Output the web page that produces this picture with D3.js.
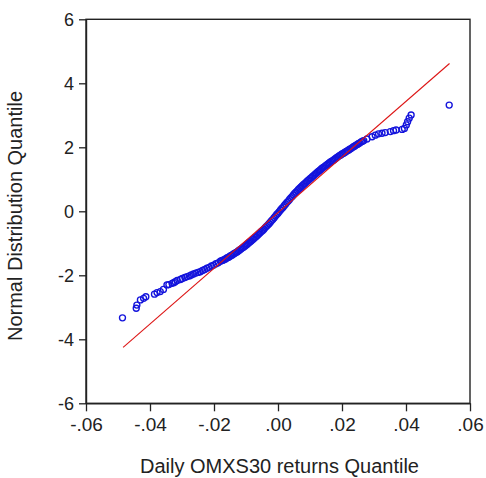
<!DOCTYPE html>
<html>
<head>
<meta charset="utf-8">
<script src="https://cdn.jsdelivr.net/npm/d3@7"></script>
<style>
  html, body { margin: 0; padding: 0; background: #fff; }
  svg { display: block; }
  text { font-family: "Liberation Sans", Arial, sans-serif; fill: #222; }
</style>
</head>
<body>
<svg id="chart" width="486" height="478"></svg>
<script>
// Empirical quantiles of daily OMXS30 returns (x) against normal quantiles (y)
const returnQ = [
  -0.0486,-0.0443,-0.0441,-0.0430,-0.0420,-0.0413,-0.0386,-0.0378,-0.0368,-0.0358,
  -0.0347,-0.0341,-0.0331,-0.0326,-0.0321,-0.0315,-0.0305,-0.0299,-0.0291,-0.0284,
  -0.0277,-0.0271,-0.0264,-0.0257,-0.0250,-0.0243,-0.0236,-0.0229,-0.0222,-0.0215,
  -0.0208,-0.0201,-0.0194,-0.0187,-0.0180,
  -0.0176,-0.0172,-0.0168,-0.0164,-0.0160,-0.0156,-0.0152,-0.0148,-0.0144,-0.0140,
  -0.0136,-0.0132,-0.0128,-0.0124,-0.0120,-0.0116,-0.0112,-0.0108,-0.0104,-0.0100,
  -0.0096,-0.0092,-0.0088,-0.0084,-0.0080,-0.0076,-0.0072,-0.0068,-0.0064,-0.0060,
  -0.0056,-0.0052,-0.0048,-0.0044,-0.0040,-0.0036,-0.0032,-0.0028,-0.0024,-0.0020,
  -0.0016,-0.0012,-0.0008,-0.0004,0.0000,0.0004,0.0008,0.0012,0.0016,0.0020,
  0.0024,0.0028,0.0032,0.0036,0.0040,0.0044,0.0048,0.0052,0.0056,0.0060,
  0.0064,0.0068,0.0072,0.0076,0.0080,0.0084,0.0088,0.0092,0.0096,0.0100,
  0.0104,0.0108,0.0112,0.0116,0.0120,0.0124,0.0128,0.0132,0.0136,0.0140,
  0.0144,0.0148,0.0152,0.0156,0.0160,0.0164,0.0168,0.0172,0.0176,0.0180,
  0.0184,0.0188,0.0192,0.0196,0.0200,0.0204,0.0208,0.0212,0.0216,0.0220,
  0.0224,0.0228,0.0232,0.0236,0.0240,0.0244,0.0248,0.0252,0.0256,0.0260,
  0.0264,0.0268,
  0.0278,0.0294,0.0304,0.0314,0.0325,0.0335,0.0351,0.0361,0.0369,0.0388,
  0.0395,0.0401,0.0405,0.0410,0.0416,0.0535
];
const normalQ = [
  -3.33,-3.03,-2.93,-2.77,-2.72,-2.67,-2.59,-2.54,-2.51,-2.44,
  -2.30,-2.29,-2.25,-2.23,-2.20,-2.16,-2.13,-2.10,-2.07,-2.04,
  -2.02,-1.99,-1.96,-1.93,-1.91,-1.89,-1.85,-1.82,-1.78,-1.75,
  -1.71,-1.68,-1.64,-1.61,-1.56,
  -1.54,-1.53,-1.51,-1.49,-1.46,-1.44,-1.42,-1.39,-1.37,-1.34,
  -1.32,-1.29,-1.27,-1.24,-1.21,-1.18,-1.15,-1.12,-1.09,-1.06,
  -1.03,-0.99,-0.96,-0.93,-0.89,-0.86,-0.82,-0.79,-0.75,-0.71,
  -0.67,-0.63,-0.60,-0.56,-0.51,-0.47,-0.43,-0.39,-0.34,-0.29,
  -0.25,-0.20,-0.15,-0.10,-0.06,-0.01,0.04,0.09,0.13,0.18,
  0.23,0.28,0.32,0.37,0.42,0.46,0.51,0.56,0.60,0.64,
  0.68,0.72,0.76,0.80,0.84,0.87,0.91,0.95,0.98,1.02,
  1.05,1.09,1.12,1.16,1.19,1.23,1.26,1.29,1.33,1.36,
  1.39,1.42,1.45,1.48,1.51,1.54,1.57,1.59,1.62,1.65,
  1.68,1.71,1.74,1.76,1.79,1.81,1.84,1.86,1.89,1.91,
  1.94,1.96,1.99,2.02,2.04,2.07,2.09,2.12,2.14,2.17,
  2.19,2.21,
  2.26,2.33,2.38,2.42,2.44,2.46,2.49,2.52,2.54,2.56,
  2.59,2.70,2.80,2.91,3.01,3.32
];

// Fitted normal reference line (endpoints in data units)
const fitX = [-0.0484, 0.0536];
const fitY = [-4.25, 4.62];

const xTickValues = [-0.06, -0.04, -0.02, 0, 0.02, 0.04, 0.06];
const xTickLabels = ["-.06", "-.04", "-.02", ".00", ".02", ".04", ".06"];
const yTickValues = [-6, -4, -2, 0, 2, 4, 6];
const yTickLabels = ["-6", "-4", "-2", "0", "2", "4", "6"];

const svg = d3.select("#chart");
const plotLeft = 86, plotRight = 470, plotTop = 19.3, plotBottom = 403.3;

const x = d3.scaleLinear().domain([-0.06, 0.06]).range([plotLeft, plotRight]);
const y = d3.scaleLinear().domain([-6, 6]).range([plotBottom, plotTop]);

// frame
svg.append("rect")
  .attr("x", plotLeft).attr("y", plotTop)
  .attr("width", plotRight - plotLeft).attr("height", plotBottom - plotTop)
  .attr("fill", "none").attr("stroke", "#222").attr("stroke-width", 1.4);

// axes
const xAxis = d3.axisBottom(x)
  .tickValues(xTickValues)
  .tickFormat((d, i) => xTickLabels[i])
  .tickSize(8).tickSizeOuter(0).tickPadding(6);
const yAxis = d3.axisLeft(y)
  .tickValues(yTickValues)
  .tickFormat((d, i) => yTickLabels[i])
  .tickSize(7).tickSizeOuter(0).tickPadding(5);

const gx = svg.append("g").attr("transform", `translate(0,${plotBottom})`).call(xAxis);
const gy = svg.append("g").attr("transform", `translate(${plotLeft},0)`).call(yAxis);
[gx, gy].forEach(g => {
  g.select(".domain").attr("stroke", "#222").attr("stroke-width", 1.4);
  g.selectAll(".tick line").attr("stroke", "#222").attr("stroke-width", 1.3);
  g.selectAll(".tick text").attr("fill", "#222").style("font-family", '"Liberation Sans", Arial, sans-serif');
});
gx.selectAll(".tick text").style("font-size", "19px");
gy.selectAll(".tick text").style("font-size", "18px");

// quantile points
svg.append("g")
  .selectAll("circle")
  .data(d3.zip(returnQ, normalQ))
  .join("circle")
  .attr("cx", d => x(d[0]))
  .attr("cy", d => y(d[1]))
  .attr("r", 3)
  .attr("fill", "none")
  .attr("stroke", "#1414dc")
  .attr("stroke-width", 1.35);

// reference line, drawn over the points
const line = d3.line().x(d => x(d[0])).y(d => y(d[1]));
svg.append("path")
  .datum(d3.zip(fitX, fitY))
  .attr("d", line)
  .attr("fill", "none")
  .attr("stroke", "#dd1515")
  .attr("stroke-width", 1.1);

// axis titles
svg.append("text")
  .attr("x", 279.5).attr("y", 473)
  .attr("text-anchor", "middle")
  .style("font-size", "20px")
  .text("Daily OMXS30 returns Quantile");

svg.append("text")
  .attr("transform", "translate(22,216) rotate(-90)")
  .attr("text-anchor", "middle")
  .style("font-size", "20px")
  .text("Normal Distribution Quantile");
</script>
</body>
</html>
